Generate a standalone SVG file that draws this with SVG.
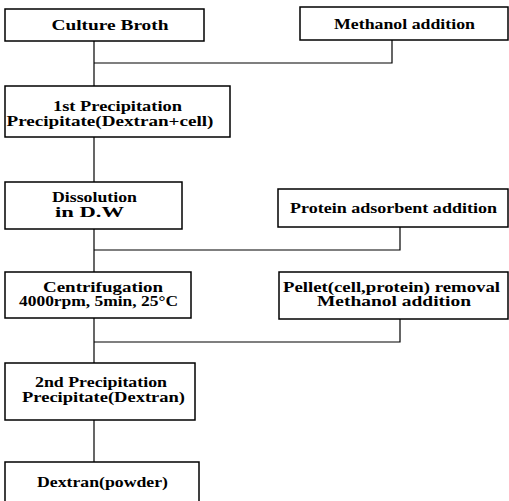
<svg xmlns="http://www.w3.org/2000/svg" width="509" height="501" viewBox="0 0 509 501">
<style>
.box{fill:#fff;stroke:#000;stroke-width:1.5}
.t{font-family:"Liberation Serif","Times New Roman",serif;font-weight:bold;font-size:14px;fill:#000;text-anchor:middle}
.c{fill:none;stroke:#000;stroke-width:1.2}
</style>
<rect width="509" height="501" fill="#fff"/>
<g id="connectors">
<path class="c" d="M94 41V86"/>
<path class="c" d="M94 63H392V40"/>
<path class="c" d="M94 137V182"/>
<path class="c" d="M94 229V272"/>
<path class="c" d="M94 250H400V227"/>
<path class="c" d="M94 318V363"/>
<path class="c" d="M94 342H400V319"/>
<path class="c" d="M94 420V462"/>
</g>
<g id="culture">
<rect class="box" x="5" y="9" width="199" height="32"/>
<text class="t" x="110" y="30" textLength="117" lengthAdjust="spacingAndGlyphs">Culture Broth</text>
</g>
<g id="methanol1">
<rect class="box" x="300" y="7" width="208" height="33"/>
<text class="t" x="404.5" y="29" textLength="141" lengthAdjust="spacingAndGlyphs">Methanol addition</text>
</g>
<g id="precip1">
<rect class="box" x="5" y="86" width="225" height="51"/>
<text class="t" x="117.5" y="111" textLength="129" lengthAdjust="spacingAndGlyphs">1st Precipitation</text>
<text class="t" x="110" y="125.5" textLength="207" lengthAdjust="spacingAndGlyphs">Precipitate(Dextran+cell)</text>
</g>
<g id="dissolution">
<rect class="box" x="5" y="182" width="177" height="47"/>
<text class="t" x="94.5" y="202" textLength="85" lengthAdjust="spacingAndGlyphs">Dissolution</text>
<text class="t" x="89.5" y="217" textLength="69" lengthAdjust="spacingAndGlyphs">in D.W</text>
</g>
<g id="protein">
<rect class="box" x="278" y="189" width="230" height="38"/>
<text class="t" x="393.5" y="213" textLength="207" lengthAdjust="spacingAndGlyphs">Protein adsorbent addition</text>
</g>
<g id="centrifugation">
<rect class="box" x="5" y="272" width="186" height="46"/>
<text class="t" x="103" y="291.5" textLength="120" lengthAdjust="spacingAndGlyphs">Centrifugation</text>
<text class="t" x="98.5" y="306" textLength="159" lengthAdjust="spacingAndGlyphs">4000rpm, 5min, 25°C</text>
</g>
<g id="pellet">
<rect class="box" x="279" y="272" width="229" height="47"/>
<text class="t" x="391.5" y="291.5" textLength="217" lengthAdjust="spacingAndGlyphs">Pellet(cell,protein) removal</text>
<text class="t" x="394" y="306" textLength="154" lengthAdjust="spacingAndGlyphs">Methanol addition</text>
</g>
<g id="precip2">
<rect class="box" x="5" y="363" width="190" height="57"/>
<text class="t" x="101" y="387" textLength="132" lengthAdjust="spacingAndGlyphs">2nd Precipitation</text>
<text class="t" x="103.5" y="402" textLength="163" lengthAdjust="spacingAndGlyphs">Precipitate(Dextran)</text>
</g>
<g id="dextran">
<rect class="box" x="5" y="462" width="194" height="45"/>
<text class="t" x="102.5" y="487" textLength="131" lengthAdjust="spacingAndGlyphs">Dextran(powder)</text>
</g>
</svg>
